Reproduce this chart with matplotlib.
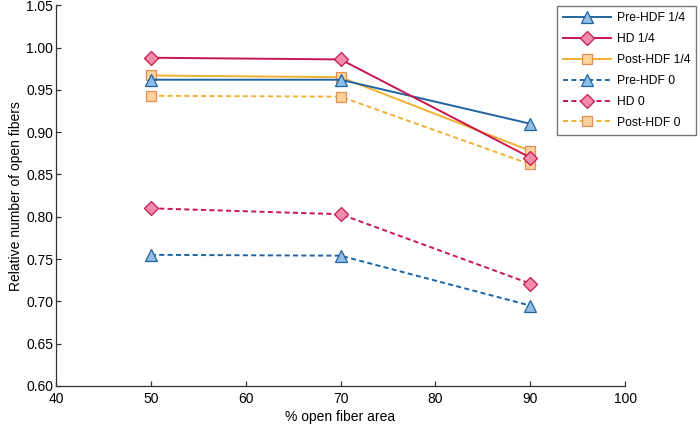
import numpy as np
import matplotlib.pyplot as plt

plt.rcParams['font.family'] = ['Liberation Sans', 'DejaVu Sans']

# --- Data ---
open_area = [50, 70, 90]
pre_hdf_quarter = [0.962, 0.962, 0.910]
hd_quarter = [0.988, 0.986, 0.870]
post_hdf_quarter = [0.967, 0.965, 0.878]
pre_hdf_zero = [0.755, 0.754, 0.695]
hd_zero = [0.810, 0.803, 0.721]
post_hdf_zero = [0.943, 0.942, 0.862]

blue = ('#1f64a0', '#8fbde3')
red = ('#c8174f', '#f28cab')
gold = ('#f2b130', '#fdd39c')
gold_edge = '#e48d55'
dashed = (0, (2.6, 1.7))

series = [
    (pre_hdf_quarter, 'Pre-HDF 1/4', blue, '^', '-', blue[0], 2.2),
    (hd_quarter, 'HD 1/4', red, 'D', '-', red[0], 2.6),
    (post_hdf_quarter, 'Post-HDF 1/4', gold, 's', '-', gold_edge, 2.1),
    (pre_hdf_zero, 'Pre-HDF 0', blue, '^', dashed, blue[0], 2.2),
    (hd_zero, 'HD 0', red, 'D', dashed, red[0], 2.3),
    (post_hdf_zero, 'Post-HDF 0', gold, 's', dashed, gold_edge, 2.0),
]
marker_size = {'^': 8.4, 'D': 7.5, 's': 7.6}

fig = plt.figure(figsize=(7, 4.26), dpi=100)
ax = fig.add_axes([0.08, 0.094, 0.813, 0.8936])

for vals, label, (lc, fc), mk, ls, ec, z in series:
    ax.plot(open_area, vals, linestyle=ls, color=lc, linewidth=1.4,
            marker=mk, markersize=marker_size[mk], markerfacecolor=fc,
            markeredgecolor=ec, markeredgewidth=0.9, label=label, zorder=z)

ax.set_xlim(40, 100)
ax.set_ylim(0.60, 1.05)
ax.set_xticks(np.arange(40, 101, 10))
ax.set_yticks(np.arange(0.60, 1.051, 0.05))
ax.yaxis.set_major_formatter(plt.FormatStrFormatter('%.2f'))
ax.tick_params(direction='in', length=3.6, width=0.9, labelsize=10, color='#333333')
ax.tick_params(axis='x', pad=4)
ax.tick_params(axis='y', pad=2)
for side in ['top', 'right']:
    ax.spines[side].set_visible(False)
for side in ['left', 'bottom']:
    ax.spines[side].set_color('#333333')
    ax.spines[side].set_linewidth(0.9)

ax.set_xlabel('% open fiber area', fontsize=10, labelpad=3)
ax.set_ylabel('Relative number of open fibers', fontsize=10, labelpad=2)

leg = ax.legend(loc='upper left', bbox_to_anchor=(0.795, 0.986),
                bbox_transform=fig.transFigure, fontsize=8.7, frameon=True,
                fancybox=False, edgecolor='#777777', framealpha=1,
                handlelength=4, handletextpad=0.5, borderpad=0.5,
                labelspacing=0.74, borderaxespad=0)
leg.get_frame().set_linewidth(1.0)

fig.savefig('out.png', dpi=100)
